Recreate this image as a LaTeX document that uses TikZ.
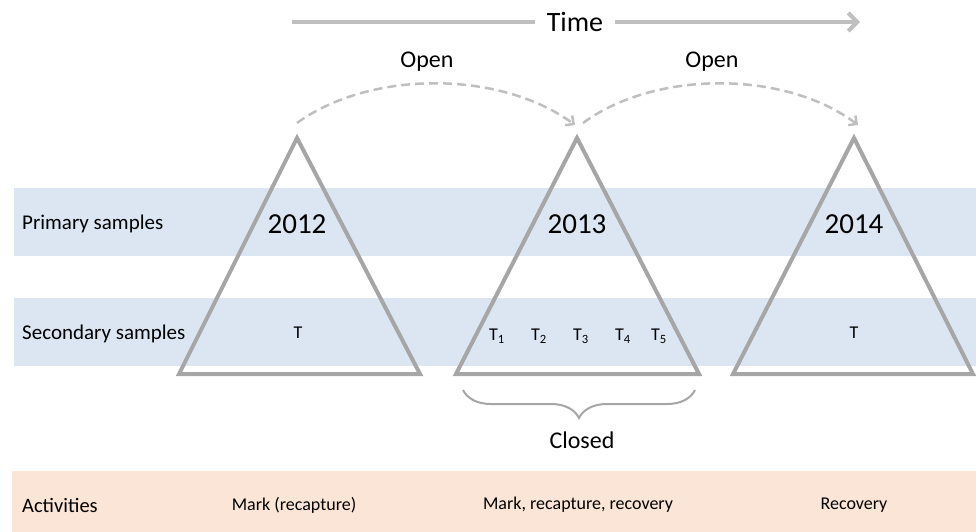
\documentclass[tikz,border=0pt]{standalone}
\usepackage{fontspec}
\setmainfont{Carlito}
\usetikzlibrary{arrows.meta,decorations.pathreplacing}
\definecolor{bandblue}{HTML}{DCE6F2}
\definecolor{bandorange}{HTML}{FBE5D6}
\definecolor{trigray}{HTML}{A6A6A6}
\definecolor{lightgray2}{HTML}{BFBFBF}
\tikzset{
  x=1pt, y=-1pt,
  band/.style={fill=bandblue, draw=none},
  actband/.style={fill=bandorange, draw=none},
  tri/.style={draw=trigray, line width=4pt, line join=miter},
  rowlabel/.style={anchor=west, font=\fontsize{21}{25}\selectfont, inner sep=0pt},
  year/.style={font=\fontsize{29}{34}\selectfont, inner sep=0pt},
  tlabel/.style={font=\fontsize{18}{21}\selectfont, inner sep=0pt},
  actlabel/.style={font=\fontsize{18}{21}\selectfont, inner sep=0pt},
  openarc/.style={draw=lightgray2, line width=2.5pt, dash pattern=on 9pt off 5pt, -{Straight Barb[length=6pt,width=12pt,line width=2.5pt]}},
  timearrow/.style={draw=lightgray2, line width=4pt, -{Straight Barb[length=9pt,width=18pt,line width=4pt]}},
  bigtext/.style={font=\fontsize{28}{32}\selectfont, inner sep=0pt},
  opentext/.style={font=\fontsize{24}{28}\selectfont, inner sep=0pt},
}
\begin{document}
\begin{tikzpicture}
\useasboundingbox (0,0) rectangle (976,532);
% bands
\fill[band] (14,188) rectangle (976,256);
\fill[band] (14,298) rectangle (976,366);
\fill[actband] (12,471) rectangle (976,532);
% row labels
\node[rowlabel] (prim) at (22,224) {Primary samples};
\node[rowlabel] (sec) at (22,334) {Secondary samples};
\node[rowlabel, font=\fontsize{20.5}{24}\selectfont] (act) at (22,505) {Activities};
% triangles
\coordinate (a12) at (297,138);
\coordinate (l12) at (179,374);
\coordinate (r12) at (420,374);
\coordinate (a13) at (577,138);
\coordinate (l13) at (456,374);
\coordinate (r13) at (699,374);
\coordinate (a14) at (854,138);
\coordinate (l14) at (733,374);
\coordinate (r14) at (973,374);
\draw[tri] (a12) -- (l12) -- (r12) -- cycle;
\draw[tri] (a13) -- (l13) -- (r13) -- cycle;
\draw[tri] (a14) -- (l14) -- (r14) -- cycle;
% years
\node[year] (y12) at (297,224) {2012};
\node[year] (y13) at (577,224) {2013};
\node[year] (y14) at (854,224) {2014};
% secondary
\node[tlabel] (t12) at (298,333) {T};
\node[tlabel] (t1) at (497,336) {T\textsubscript{1}};
\node[tlabel] (t2) at (539,336) {T\textsubscript{2}};
\node[tlabel] (t3) at (581,336) {T\textsubscript{3}};
\node[tlabel] (t4) at (623,336) {T\textsubscript{4}};
\node[tlabel] (t5) at (659,336) {T\textsubscript{5}};
\node[tlabel] (t14) at (854,333) {T};
% time
\coordinate (ts) at (292,22);
\coordinate (te) at (860,22);
\node[bigtext, inner xsep=12pt] (time) at (575,22) {Time};
\draw[timearrow] (time.east) -- (te);
\draw[draw=lightgray2, line width=4pt] (ts) -- (time.west);
% open arcs
\coordinate (o1s) at (297,123);
\coordinate (o1e) at (575,125);
\coordinate (o2s) at (583,123);
\coordinate (o2e) at (858,125);
\draw[openarc] (o1s) .. controls (370,70) and (500,70) .. (o1e);
\draw[openarc] (o2s) .. controls (655,70) and (785,70) .. (o2e);
\node[opentext] (open1) at (427,62) {Open};
\node[opentext] (open2) at (712,62) {Open};
% closed brace
\coordinate (bl) at (463,390);
\coordinate (br) at (695,390);
\draw[draw=trigray, line width=2pt, decorate, decoration={brace, mirror, amplitude=28pt}] (bl) -- (br);
\node[opentext] (closed) at (582,440) {Closed};
% activities
\node[actlabel] (m1) at (294,505) {Mark (recapture)};
\node[actlabel] (m2) at (578,505) {Mark, recapture, recovery};
\node[actlabel] (m3) at (854,505) {Recovery};
\end{tikzpicture}
\end{document}
